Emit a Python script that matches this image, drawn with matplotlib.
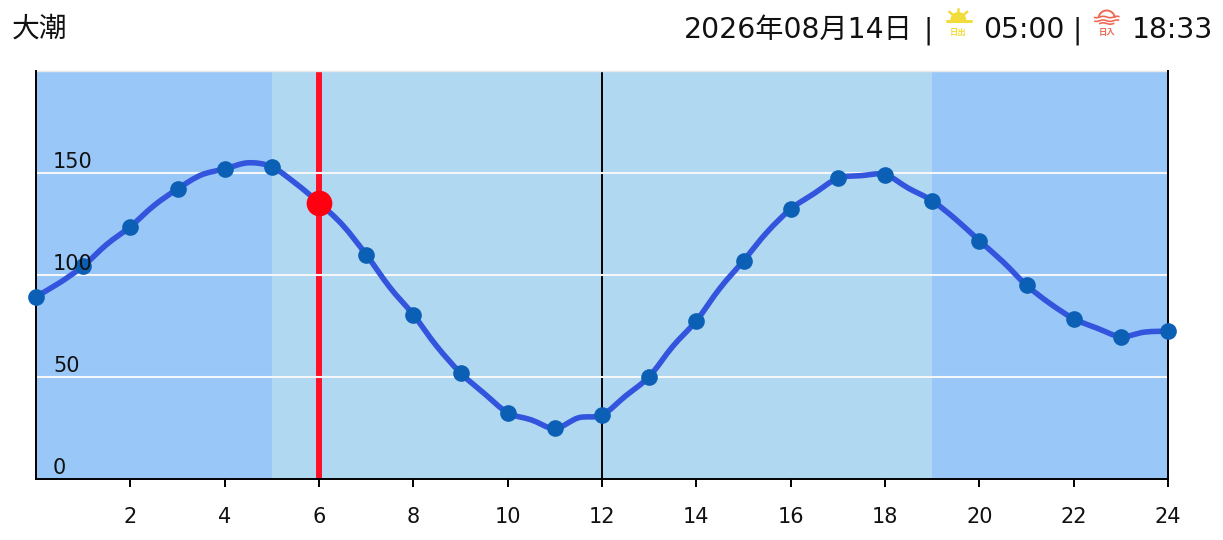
"""Tide height over one day, with sunrise and sunset shading."""

import matplotlib
matplotlib.use("Agg")
import matplotlib.pyplot as plt
import numpy as np
from matplotlib.patches import Wedge, Arc, PathPatch
from matplotlib.path import Path

W, H = 1223, 540
JP_FONT = ["Noto Sans CJK JP", "DejaVu Sans"]
HEAD_FONT = ["DejaVu Sans", "Noto Sans CJK JP"]

# --- Data ---
half_hours = [i / 2 for i in range(49)]
tide = [
    89.4, 96.2, 104.4, 115, 123.7, 134, 142.2, 149, 152, 155, 153, 145,
    135.4, 124.5, 110, 94, 80.5, 65, 52, 42, 32.5, 29, 24.8, 30,
    31.4, 40.7, 50.2, 65, 77.6, 93.5, 107, 121, 132.3, 140, 147.4, 148.7,
    149.2, 142.5, 136.4, 127.3, 116.8, 106.5, 95, 86, 78.6, 73.9, 69.8, 72,
    72.5,
]
hour_marks = half_hours[::2]
tide_marks = tide[::2]

now_hour = 6
now_tide = 135.4
sunrise_hour = 5
sunset_hour = 19
noon_hour = 12

y_ticks = [0, 50, 100, 150]
x_ticks = [2, 4, 6, 8, 10, 12, 14, 16, 18, 20, 22, 24]

tide_name = "大潮"
date_text = "2026年08月14日"
sunrise_text = "05:00"
sunset_text = "18:33"

# --- Colours ---
NIGHT = "#99C8F8"
DAY = "#B0D8F1"
LINE = "#3355DD"
DOT = "#0B60B5"
RED_LINE = "#FF1028"
RED_DOT = "#FF0010"
SUN = "#F2DC3C"
DUSK = "#EE6A55"


def smooth_path(xs, ys):
    """Bezier path through the readings, with Catmull-Rom handles."""
    pts = np.column_stack([xs, ys])
    padded = np.vstack([pts[0], pts, pts[-1]])
    verts = [pts[0]]
    codes = [Path.MOVETO]
    for i in range(1, len(padded) - 2):
        verts.append(padded[i] + (padded[i + 1] - padded[i - 1]) / 6)
        verts.append(padded[i + 1] - (padded[i + 2] - padded[i]) / 6)
        verts.append(padded[i + 1])
        codes += [Path.CURVE4] * 3
    return Path(verts, codes)


# --- Plot ---
fig = plt.figure(figsize=(W / 100, H / 100), dpi=100, facecolor="white")
ax = fig.add_axes([36 / W, 1 - 479 / H, (1168 - 36) / W, (479 - 71) / H])
ax.set_xlim(0, 24)
ax.set_ylim(0, 200)

ax.axvspan(0, sunrise_hour, color=NIGHT, lw=0, zorder=1)
ax.axvspan(sunrise_hour, sunset_hour, color=DAY, lw=0, zorder=1)
ax.axvspan(sunset_hour, 24, color=NIGHT, lw=0, zorder=1)

ax.axvline(now_hour, color=RED_LINE, lw=4.3, zorder=2)
ax.axvline(noon_hour, color="black", lw=1.4, zorder=2)
for v in y_ticks[1:]:
    ax.axhline(v, color="#F4F6F8", lw=1.5, zorder=3)

ax.add_patch(PathPatch(smooth_path(half_hours, tide), fill=False, edgecolor=LINE,
                       lw=4, joinstyle="round", capstyle="round", zorder=4))
ax.plot(hour_marks, tide_marks, "o", color=DOT, ms=12, mew=0, zorder=5,
        clip_on=False)
ax.plot(now_hour, now_tide, "o", color=RED_DOT, ms=18.5, mew=0, zorder=6)

for v in y_ticks:
    ax.text(0.36, v + 2.5, str(v), fontsize=15, va="baseline", ha="left",
            color="#111111", zorder=7)

ax.set_xticks(x_ticks)
ax.set_yticks([])
ax.tick_params(axis="x", length=6, width=1.4, labelsize=15, pad=14,
               labelcolor="#111111")

for side in ("left", "bottom", "right"):
    ax.spines[side].set_linewidth(1.4)
    ax.spines[side].set_zorder(4.5)
ax.spines["top"].set_color("#E8E8E8")
ax.spines["top"].set_linewidth(1)

# --- Header, in pixel coordinates ---
top = fig.add_axes([0, 0, 1, 1], facecolor="none")
top.set_xlim(0, W)
top.set_ylim(H, 0)
top.axis("off")

hdr = dict(family=HEAD_FONT, fontsize=20.3, va="center", color="#111111")
bar = dict(family=HEAD_FONT, fontsize=20, va="center", ha="center", color="#111111")
top.text(12, 29, tide_name, ha="left", family=JP_FONT, fontsize=20, va="center",
         color="#111111")
top.text(684, 30, date_text, ha="left", **hdr)
top.text(928, 31, "|", **bar)
top.text(983, 30, sunrise_text, ha="left", **hdr)
top.text(1077, 31, "|", **bar)
top.text(1132, 30, sunset_text, ha="left", **hdr)

# sunrise icon
sx = 958.3
top.add_patch(Wedge((sx, 20), 8, 180, 360, color=SUN, lw=0))
top.plot([946.5, 970.5], [20.7, 20.7], color=SUN, lw=2.2, solid_capstyle="round")
top.plot([sx, sx], [8.5, 11.5], color=SUN, lw=1.8)
top.plot([949.5, 952.5], [12, 14.5], color=SUN, lw=1.8)
top.plot([967, 964], [12, 14.5], color=SUN, lw=1.8)
top.text(sx, 33, "日出", family=JP_FONT, fontsize=6, weight="bold",
         ha="center", va="center", color=SUN)

# sunset icon
dx = 1106.7
top.add_patch(Arc((dx, 18), 16, 15, theta1=180, theta2=360, color=DUSK, lw=1.4))
wave_x = np.linspace(dx - 13, dx + 13, 60)
for wave_y, half_w in ((17, 12.5), (20.7, 12), (23.5, 7)):
    keep = np.abs(wave_x - dx) <= half_w
    top.plot(wave_x[keep], wave_y + 0.7 * np.sin((wave_x[keep] - dx) / 2.2),
             color=DUSK, lw=1.2)
top.text(dx, 33, "日入", family=JP_FONT, fontsize=6, weight="bold",
         ha="center", va="center", color=DUSK)

fig.savefig("out.png", dpi=100)
plt.close(fig)
